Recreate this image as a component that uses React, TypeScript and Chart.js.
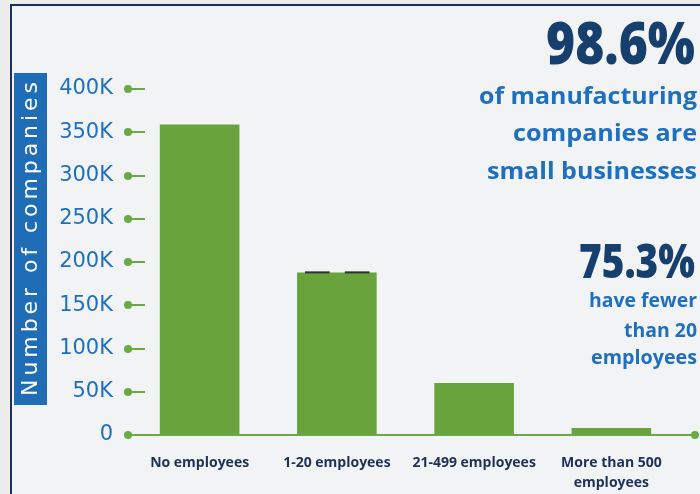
import React, { useEffect, useRef } from "react";
import { Chart, registerables } from "chart.js";

Chart.register(...registerables);

const categories: (string | string[])[] = [
  "No employees",
  "1-20 employees",
  "21-499 employees",
  ["More than 500", "employees"],
];
const companies = [359000, 188000, 60000, 8000];
const yTickValues = [0, 50000, 100000, 150000, 200000, 250000, 300000, 350000, 400000];
const yAxisTitle = "Number of companies";
const headline1 = "98.6%";
const headline1Lines = ["of manufacturing", "companies are", "small businesses"];
const headline2 = "75.3%";
const headline2Lines = ["have fewer", "than 20", "employees"];

const GREEN = "#69a33b";
const LINE_GREEN = "#6aaa44";
const BLUE = "#1f6fbf";
const NAVY = "#173f6d";
const XLABEL = "#1c3158";

function fitText(ctx: CanvasRenderingContext2D, text: string, rightX: number, baseY: number, font: string, width: number) {
  ctx.save();
  ctx.font = font;
  const w = ctx.measureText(text).width;
  const sx = width / w;
  ctx.textAlign = "left";
  ctx.textBaseline = "alphabetic";
  ctx.translate(rightX - width, baseY);
  ctx.scale(sx, 1);
  ctx.fillText(text, 0, 0);
  ctx.restore();
}

const decorPlugin = {
  id: "decor",
  beforeDraw(chart: any) {
    const ctx: CanvasRenderingContext2D = chart.ctx;
    ctx.save();
    ctx.fillStyle = "#ececec";
    ctx.fillRect(0, 0, chart.width, chart.height);
    ctx.fillStyle = "#f1f3f4";
    ctx.fillRect(11, 5, chart.width - 11, chart.height - 5);
    ctx.strokeStyle = "#1b2e5c";
    ctx.lineWidth = 2;
    ctx.beginPath();
    ctx.moveTo(11, chart.height);
    ctx.lineTo(11, 5);
    ctx.lineTo(chart.width, 5);
    ctx.stroke();
    // y axis title box
    ctx.fillStyle = "#1f6db6";
    ctx.fillRect(14, 73, 33, 332);
    ctx.translate(31, 396);
    ctx.rotate(-Math.PI / 2);
    ctx.fillStyle = "#ffffff";
    ctx.font = '22px "DejaVu Sans"';
    const w = ctx.measureText(yAxisTitle).width;
    const sp = (314 - w) / (yAxisTitle.length - 1);
    (ctx as any).letterSpacing = sp.toFixed(2) + "px";
    ctx.textAlign = "left";
    ctx.textBaseline = "middle";
    ctx.fillText(yAxisTitle, 0, 0);
    ctx.restore();
  },
  afterDatasetsDraw(chart: any) {
    // thin dark marks sitting on the top edge of the second bar, as in the source image
    const ctx: CanvasRenderingContext2D = chart.ctx;
    const bar = chart.getDatasetMeta(0).data[1];
    if (!bar) return;
    const left = bar.x - bar.width / 2;
    ctx.save();
    ctx.fillStyle = "#2a2f38";
    ctx.fillRect(left + bar.width * 0.1, bar.y - 1, bar.width * 0.31, 2);
    ctx.fillRect(left + bar.width * 0.6, bar.y - 1, bar.width * 0.31, 2);
    ctx.restore();
  },
  afterDraw(chart: any) {
    const ctx: CanvasRenderingContext2D = chart.ctx;
    const y = chart.scales.y;
    ctx.save();
    ctx.strokeStyle = LINE_GREEN;
    ctx.fillStyle = LINE_GREEN;
    ctx.lineWidth = 2;
    yTickValues.forEach((v) => {
      const py = Math.round(y.getPixelForValue(v));
      ctx.beginPath();
      ctx.moveTo(128, py);
      ctx.lineTo(v === 0 ? 695 : 145, py);
      ctx.stroke();
      ctx.beginPath();
      ctx.arc(128, py, 4, 0, Math.PI * 2);
      ctx.fill();
      if (v === 0) {
        ctx.beginPath();
        ctx.arc(695, py, 4, 0, Math.PI * 2);
        ctx.fill();
      }
    });
    ctx.fillStyle = NAVY;
    fitText(ctx, headline1, 695, 64, '800 58px "Open Sans"', 149);
    ctx.fillStyle = BLUE;
    fitText(ctx, headline1Lines[0], 697, 104, 'bold 24px "Open Sans"', 218);
    fitText(ctx, headline1Lines[1], 697, 141, 'bold 24px "Open Sans"', 184);
    fitText(ctx, headline1Lines[2], 697, 179, 'bold 24px "Open Sans"', 210);
    ctx.fillStyle = NAVY;
    fitText(ctx, headline2, 695, 278, '800 48px "Open Sans"', 116);
    ctx.fillStyle = BLUE;
    fitText(ctx, headline2Lines[0], 697, 307, 'bold 20px "Open Sans"', 108);
    fitText(ctx, headline2Lines[1], 697, 337, 'bold 20px "Open Sans"', 73);
    fitText(ctx, headline2Lines[2], 697, 364, 'bold 20px "Open Sans"', 106);
    ctx.restore();
  },
};

export default function App() {
  const ref = useRef<HTMLCanvasElement | null>(null);
  useEffect(() => {
    document.body.style.margin = "0";
    const canvas = ref.current;
    if (!canvas) return;
    const chart = new Chart(canvas, {
      type: "bar",
      data: {
        labels: categories as any,
        datasets: [
          {
            label: yAxisTitle,
            data: companies,
            backgroundColor: GREEN,
            borderWidth: 0,
            categoryPercentage: 0.58,
            barPercentage: 1,
          },
        ],
      },
      options: {
        animation: false,
        responsive: false,
        devicePixelRatio: 1,
        layout: { padding: { top: 89, right: 20, left: 0, bottom: 0 } },
        plugins: { legend: { display: false }, tooltip: { enabled: false } },
        scales: {
          x: {
            grid: { display: false, drawTicks: false },
            border: { display: false },
            afterFit: (s: any) => {
              s.height = 59;
            },
            ticks: {
              padding: 18,
              color: XLABEL,
              font: { family: "Open Sans", size: 14, weight: "bold", lineHeight: 1.45 },
              maxRotation: 0,
              autoSkip: false,
            },
          },
          y: {
            min: 0,
            max: 400000,
            grid: { display: false, drawTicks: false },
            border: { display: false },
            afterFit: (s: any) => {
              s.width = 131;
            },
            afterBuildTicks: (s: any) => {
              s.ticks = yTickValues.map((v) => ({ value: v }));
            },
            ticks: {
              padding: 18,
              color: BLUE,
              font: { family: "DejaVu Sans", size: 21 },
              callback: (v: any) => (Number(v) === 0 ? "0" : Number(v) / 1000 + "K"),
            },
          },
        },
      },
      plugins: [decorPlugin],
    });
    return () => chart.destroy();
  }, []);
  return <canvas ref={ref} width={700} height={494} style={{ display: "block" }} />;
}
